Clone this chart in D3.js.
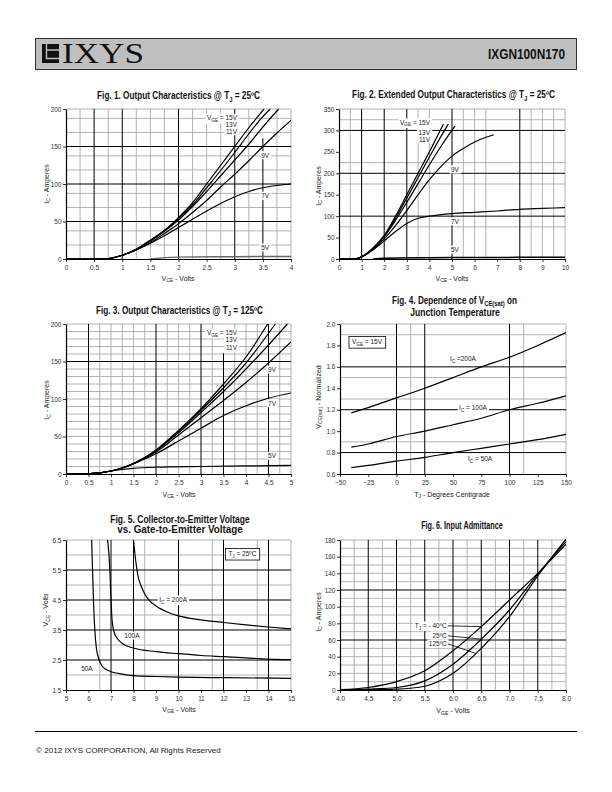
<!DOCTYPE html>
<html><head><meta charset="utf-8">
<script src="https://cdn.jsdelivr.net/npm/d3@7"></script>
<style>body{margin:0;background:#fff}svg{display:block}text{font-family:"Liberation Sans",Arial,sans-serif}</style>
</head><body>
<script>
// ================= DATA =================
// Fig 1 – Output characteristics @ 25C (VCE, IC)
const fig1_xTicks = [0,0.5,1,1.5,2,2.5,3,3.5,4];
const fig1_yTicks = [0,50,100,150,200];
const fig1_vge15 = [[0,0],[0.6,0],[0.75,0.5],[1,5],[1.25,13],[1.5,25],[1.75,38],[2,55],[2.25,75],[2.5,100],[2.75,125],[3,150],[3.25,175],[3.52,200]];
const fig1_vge13 = [[0,0],[0.6,0],[0.75,0.5],[1,5],[1.25,13],[1.5,25],[1.75,38],[2,54],[2.25,72],[2.5,95],[2.75,118],[3,142],[3.25,167],[3.5,190],[3.63,200]];
const fig1_vge11 = [[0,0],[0.6,0],[0.75,0.5],[1,5],[1.25,13],[1.5,24],[1.75,37],[2,52],[2.25,70],[2.5,90],[2.75,111],[3,132],[3.25,153],[3.5,176],[3.78,200]];
const fig1_vge9  = [[0,0],[0.6,0],[0.75,0.5],[1,5],[1.25,12],[1.5,22],[1.75,34],[2,47],[2.25,62],[2.5,78],[2.75,96],[3,113],[3.25,131],[3.5,150],[3.75,168],[4,185]];
const fig1_vge7  = [[0,0],[0.6,0],[0.75,0.5],[1,5],[1.25,12],[1.5,21],[1.75,31],[2,42],[2.25,53],[2.5,64],[2.75,74],[3,83],[3.25,90],[3.5,95],[3.75,98],[4,100]];
const fig1_vge5  = [[1.5,0],[1.7,1.5],[2,2.5],[3,3],[4,3.5]];
const fig1_xGridMajor = [0.5,1,2,3];
const fig1_xGridMinor = [0.25,0.75,1.25,1.5,1.75,2.25,2.5,2.75,3.25,3.75];
const fig1_yGridMajor = [50,100,150];
const fig1_yGridMinor = [18.75,37.5,68.75,87.5,118.75,137.5,168.75,187.5];

// Fig 2 – Extended output characteristics @ 25C
const fig2_xTicks = [0,1,2,3,4,5,6,7,8,9,10];
const fig2_yTicks = [0,50,100,150,200,250,300,350];
const fig2_vge15 = [[0,0],[0.5,0],[0.75,0.5],[1,5],[1.5,25],[2,55],[2.5,100],[3,150],[3.5,200],[4,250],[4.3,281],[4.62,315]];
const fig2_vge13 = [[0,0],[0.5,0],[0.75,0.5],[1,5],[1.5,25],[2,54],[2.5,95],[3,142],[3.5,190],[4,238],[4.5,285],[4.84,315]];
const fig2_vge11 = [[0,0],[0.5,0],[0.75,0.5],[1,5],[1.5,24],[2,52],[2.5,90],[3,132],[3.5,176],[4,220],[4.5,262],[5.13,310]];
const fig2_vge9  = [[0,0],[0.5,0],[0.75,0.5],[1,5],[1.5,22],[2,47],[2.5,78],[3,113],[3.5,150],[4,185],[4.5,215],[5,240],[5.5,258],[6,273],[6.5,284],[6.85,290]];
const fig2_vge7  = [[0,0],[0.5,0],[0.75,0.5],[1,5],[1.5,21],[2,42],[2.5,64],[3,83],[3.5,95],[4,100],[5,106],[6,109],[7,112],[8,116],[9,118],[10,120]];
const fig2_vge5  = [[1.5,0],[2,2],[4,3],[6,3.5],[10,4]];
const fig2_xGridMajor = [1,2,3,5,8];
const fig2_xGridMinor = [0.5,3.5,4,5.5,6,6.5,8.5,9,9.5];
const fig2_yGridMajor = [100,200,300];
const fig2_yGridMinor = [75,175,225,325];

// Fig 3 – Output characteristics @ 125C
const fig3_xTicks = [0,0.5,1,1.5,2,2.5,3,3.5,4,4.5,5];
const fig3_yTicks = [0,50,100,150,200];
const fig3_vge15 = [[0,0],[0.4,0],[0.5,0.5],[0.75,1.5],[1,4],[1.25,8],[1.5,14],[1.75,22],[2,32],[2.5,58],[3,87],[3.5,120],[4,156],[4.48,200]];
const fig3_vge13 = [[0,0],[0.4,0],[0.5,0.5],[0.75,1.5],[1,4],[1.25,8],[1.5,14],[1.75,21.8],[2,31.5],[2.5,57],[3,85],[3.5,115],[4,148],[4.65,200]];
const fig3_vge11 = [[0,0],[0.4,0],[0.5,0.5],[0.75,1.5],[1,4],[1.25,8],[1.5,14],[1.75,21.5],[2,31],[2.5,55],[3,82],[3.5,110],[4,140],[4.5,172],[4.92,200]];
const fig3_vge9  = [[0,0],[0.4,0],[0.5,0.5],[0.75,1.5],[1,4],[1.25,8],[1.5,13.8],[1.75,21],[2,29.5],[2.5,52],[3,75],[3.5,98],[4,122],[4.5,148],[5,176]];
const fig3_vge7  = [[0,0],[0.4,0],[0.5,0.5],[0.75,1.5],[1,4],[1.25,8],[1.5,13.5],[1.75,20],[2,27],[2.5,44],[3,61],[3.5,78],[4,91],[4.5,101],[5,108]];
const fig3_vge5  = [[0,0],[0.4,0],[0.5,0.5],[0.75,1.5],[1,4],[1.25,6],[1.5,7.5],[2,9],[3,10],[4,10.8],[5,11.5]];
const fig3_xGridMajor = [0.5,2,3,4.5];
const fig3_xGridMinor = [0.75,1,1.25,1.5,1.75,2.25,2.5,2.75,3.25,3.75,4,4.25,4.75];
const fig3_yGridMajor = [150];
const fig3_yGridMinor = [10,20,30,40,50,60,70,80,90,100,110,120,130,140,160,170,180,190];

// Fig 4 – VCE(sat) normalized vs junction temperature
const fig4_xTicks = [-50,-25,0,25,50,75,100,125,150];
const fig4_yTicks = [0.6,0.8,1.0,1.2,1.4,1.6,1.8,2.0];
const fig4_temp  = [-40,-25,0,25,50,75,100,125,150];
const fig4_ic200 = [1.17,1.22,1.31,1.40,1.50,1.60,1.69,1.80,1.92];
const fig4_ic100 = [0.85,0.88,0.95,1.00,1.06,1.12,1.20,1.26,1.33];
const fig4_ic50  = [0.66,0.68,0.72,0.755,0.80,0.84,0.88,0.92,0.97];
const fig4_xGridMajor = [0,25,100];
const fig4_xGridMinor = [12.5,112.5];
const fig4_yGridMajor = [0.8,1.2,1.6];
const fig4_yGridMinor = [0.9,1.3,1.5,1.9];

// Fig 5 – VCE vs VGE
const fig5_xTicks = [5,6,7,8,9,10,11,12,13,14,15];
const fig5_yTicks = [1.5,2.5,3.5,4.5,5.5,6.5];
const fig5_ic200 = [[8.0,6.5],[8.1,5.8],[8.2,5.3],[8.35,4.95],[8.5,4.7],[8.75,4.45],[9,4.3],[9.5,4.1],[10,3.97],[11,3.84],[12,3.75],[13,3.67],[14,3.6],[15,3.54]];
const fig5_ic100 = [[6.85,6.5],[6.95,5.5],[7.0,4.5],[7.05,3.8],[7.15,3.4],[7.3,3.2],[7.5,3.05],[8,2.9],[9,2.78],[10,2.71],[11,2.65],[12,2.61],[13,2.57],[14,2.53],[15,2.51]];
const fig5_ic50  = [[6.14,6.5],[6.18,5.5],[6.22,4.5],[6.28,3.5],[6.35,2.9],[6.45,2.55],[6.6,2.3],[6.8,2.18],[7,2.11],[7.5,2.03],[8,1.98],[9,1.95],[10,1.93],[12,1.91],[15,1.89]];
const fig5_xGridMajor = [7,8,10,12,14];
const fig5_xGridMinor = [6.5,8.5,11.5,13.5];
const fig5_yGridMajor = [2.5,3.5,4.5,5.5];
const fig5_yGridMinor = [2,3,4,5,6];

// Fig 6 – Input admittance (VGE, IC)
const fig6_xTicks = [4.0,4.5,5.0,5.5,6.0,6.5,7.0,7.5,8.0];
const fig6_yTicks = [0,20,40,60,80,100,120,140,160,180];
const fig6_tjm40 = [[4,0.5],[4.5,3],[5,10],[5.5,23],[6,47],[6.5,76],[7,108],[7.5,140],[8,175]];
const fig6_tj25  = [[4,0],[4.5,1],[5,3],[5.5,11],[6,31],[6.5,61],[7,96],[7.5,139],[8,178]];
const fig6_tj125 = [[4,0],[4.5,0.2],[5,1],[5.5,4.5],[6,20],[6.5,50],[7,88],[7.5,137],[8,181]];
const fig6_xGridMajor = [4.5,5,5.5,6,6.5,7,7.5];
const fig6_xGridMinor = [4.25,4.75,5.25,5.75,6.25,6.75,7.25,7.75];
const fig6_yGridMajor = [60,120];
const fig6_yGridMinor = [10,20,30,40,50,70,80,90,100,110,130,140,150,160,170];

// ================= DRAWING =================
const svg = d3.select("body").append("svg").attr("width",612).attr("height",792);
const MINOR = "#a0a0a0", TXT = "#222";
let clipN = 0;

function rich(sel, str, fs){
  const re = /_\{([^}]*)\}/g; let last=0, m; const parts=[];
  while((m=re.exec(str))){ if(m.index>last) parts.push({t:str.slice(last,m.index)}); parts.push({t:m[1],sub:true}); last=re.lastIndex; }
  if(last<str.length) parts.push({t:str.slice(last)});
  let shifted=false;
  parts.forEach(p=>{
    const ts = sel.append("tspan").text(p.t);
    if(p.sub){ ts.attr("font-size",fs*0.72).attr("dy",fs*0.25); shifted=true; }
    else if(shifted){ ts.attr("dy",-fs*0.25); shifted=false; }
  });
  return sel;
}
function fitWidth(t, cx, w){
  const bw = t.node().getBBox().width;
  const s = w/bw;
  t.attr("transform",`translate(${cx},0) scale(${s},1) translate(${-cx},0)`);
}
function title(str, cx, y, w){
  const t = svg.append("text").attr("x",cx).attr("y",y).attr("text-anchor","middle")
    .attr("font-size",10).attr("font-weight","bold").attr("fill","#111")
    .style("font-family",'"Liberation Sans Narrow","Liberation Sans",Arial,sans-serif');
  rich(t,str,10);
  fitWidth(t,cx,w);
}

function chart(c){
  const g = svg.append("g");
  const x = d3.scaleLinear().domain(c.xd).range([c.l,c.r]);
  const y = d3.scaleLinear().domain(c.yd).range([c.b,c.t]);
  const id = "clip"+(clipN++);
  svg.append("clipPath").attr("id",id).append("rect")
    .attr("x",c.l).attr("y",c.t-1).attr("width",c.r-c.l).attr("height",c.b-c.t+1);
  const vline=(v,col,w,a,b)=>g.append("line").attr("x1",x(v)).attr("x2",x(v))
    .attr("y1",y(a===undefined?c.yd[0]:a)).attr("y2",y(b===undefined?c.yd[1]:b)).attr("stroke",col).attr("stroke-width",w);
  const hline=(v,col,w)=>g.append("line").attr("x1",c.l).attr("x2",c.r)
    .attr("y1",y(v)).attr("y2",y(v)).attr("stroke",col).attr("stroke-width",w);
  c.xMinor.forEach(v=>vline(v,MINOR,0.8));
  c.yMinor.forEach(v=>hline(v,MINOR,0.8));
  hline(c.yd[1],MINOR,0.8); vline(c.xd[1],MINOR,0.8);
  c.xMajor.forEach(v=>vline(v,"#000",1));
  c.yMajor.forEach(v=>hline(v,"#000",1));
  (c.xPartial||[]).forEach(p=>vline(p[0],"#000",1,c.yd[0],p[1]));

  const ax = g.append("g").attr("transform",`translate(0,${c.b})`)
    .call(d3.axisBottom(x).tickValues(c.xt).tickFormat(c.xf).tickSizeInner(3).tickSizeOuter(0).tickPadding(3));
  const ay = g.append("g").attr("transform",`translate(${c.l},0)`)
    .call(d3.axisLeft(y).tickValues(c.yt).tickFormat(c.yf).tickSizeInner(3).tickSizeOuter(0).tickPadding(1.5));
  [ax,ay].forEach(a=>{
    a.attr("font-family",null).attr("font-size",null);
    a.selectAll("text").attr("font-size",6.5).attr("fill","#333");
    a.selectAll("line").attr("stroke","#000").attr("stroke-width",0.8);
    a.select(".domain").attr("stroke","#000").attr("stroke-width",1.2);
  });

  const line = d3.line().x(d=>x(d[0])).y(d=>y(d[1])).curve(d3.curveMonotoneX);
  const cg = g.append("g").attr("clip-path",`url(#${id})`);
  c.series.forEach(s=>{
    cg.append("path").datum(s.pts).attr("d",line).attr("fill","none")
      .attr("stroke",s.col||"#000").attr("stroke-width",s.w||1.2);
  });

  (c.labels||[]).forEach(L=>{
    const lg = g.append("g");
    const t = lg.append("text").attr("x",x(L.x)).attr("y",y(L.y)).attr("text-anchor",L.a||"middle")
      .attr("font-size",6.5).attr("fill",TXT);
    rich(t,L.t,6.5);
    const bb = t.node().getBBox();
    const px = L.box?3:1.5;
    lg.insert("rect",":first-child").attr("x",bb.x-px).attr("y",bb.y-(L.box?1.5:0.5)).attr("width",bb.width+2*px).attr("height",bb.height+(L.box?3:1))
      .attr("fill","#fff").attr("stroke",L.box?"#000":"none").attr("stroke-width",0.8);
  });

  (c.leaders||[]).forEach(L=>{
    const lg = g.append("g");
    const t = lg.append("text").attr("x",x(L.x)).attr("y",y(L.y)).attr("text-anchor","end")
      .attr("font-size",6.5).attr("fill",TXT);
    rich(t,L.t,6.5);
    const bb = t.node().getBBox();
    lg.insert("rect",":first-child").attr("x",bb.x-1.5).attr("y",bb.y-0.5).attr("width",bb.width+3).attr("height",bb.height+1).attr("fill","#fff");
    const xs = L.curve.map(d=>d[0]), ys = L.curve.map(d=>d[1]);
    const yEnd = d3.scaleLinear().domain(xs).range(ys)(L.at);
    lg.append("line").attr("x1",x(L.x)+1).attr("y1",y(L.y)-2.2).attr("x2",x(L.at)).attr("y2",y(yEnd))
      .attr("stroke","#000").attr("stroke-width",0.8);
  });

  const xt = g.append("text").attr("x",c.xTitle.cx).attr("y",c.xTitle.y).attr("text-anchor","middle")
    .attr("font-size",7).attr("fill",TXT);
  rich(xt,c.xTitle.t,7);
  const yt = g.append("text").attr("transform",`translate(${c.yTitle.x},${c.yTitle.cy}) rotate(-90)`).attr("text-anchor","middle")
    .attr("font-size",7).attr("fill",TXT);
  rich(yt,c.yTitle.t,7);
}

const f1 = d=>d3.format("")(d);
const f1d = d=>d.toFixed(1);

// ---------- header ----------
svg.append("rect").attr("x",35.5).attr("y",38.5).attr("width",541).attr("height",31).attr("fill","#bfbfbf").attr("stroke","#333").attr("stroke-width",1);
svg.append("rect").attr("x",42).attr("y",44).attr("width",17).attr("height",19).attr("fill","#111");
svg.append("path").attr("d","M46.5,44 V58.5 H59 M46.5,50 H59").attr("stroke","#bfbfbf").attr("stroke-width",1.4).attr("fill","none");
svg.append("text").attr("x",62).attr("y",63).attr("font-size",29).attr("fill","#111")
  .style("font-family",'"Liberation Serif","Times New Roman",serif').attr("textLength",82).attr("lengthAdjust","spacingAndGlyphs").text("IXYS");
svg.append("text").attr("x",565).attr("y",59).attr("text-anchor","end").attr("font-size",14).attr("font-weight","bold").attr("fill","#111")
  .style("font-family",'"Liberation Sans Narrow","Liberation Sans",Arial,sans-serif').attr("textLength",77).attr("lengthAdjust","spacingAndGlyphs").text("IXGN100N170");

// ---------- titles ----------
title("Fig. 1. Output Characteristics @ T_{J} = 25ºC", 178.5, 99.5, 163);
title("Fig. 2. Extended Output Characteristics @ T_{J} = 25ºC", 453.5, 98.5, 203);
title("Fig. 3. Output Characteristics @ T_{J} = 125ºC", 179.5, 314, 167);
title("Fig. 4. Dependence of V_{CE(sat)} on", 454.5, 304, 125);
title("Junction Temperature", 455, 316.5, 90);
title("Fig. 5. Collector-to-Emitter Voltage", 180, 523, 140);
title("vs. Gate-to-Emitter Voltage", 180, 533.5, 126);
title("Fig. 6. Input Admittance", 462, 529, 82);

// ---------- charts ----------
chart({l:66,r:291,t:109,b:259,xd:[0,4],yd:[0,200],xt:fig1_xTicks,yt:fig1_yTicks,xf:f1,yf:f1,
  xMajor:fig1_xGridMajor,xMinor:fig1_xGridMinor,yMajor:fig1_yGridMajor,yMinor:fig1_yGridMinor,xPartial:[[3.5,161]],
  series:[{pts:fig1_vge15},{pts:fig1_vge13},{pts:fig1_vge11},{pts:fig1_vge9},{pts:fig1_vge7},{pts:fig1_vge5,col:"#666",w:1.5}],
  labels:[{t:"V_{GE} = 15V",x:3.04,y:185,a:"end"},{t:"13V",x:3.04,y:176,a:"end"},{t:"11V",x:3.04,y:167,a:"end"},
          {t:"9V",x:3.54,y:135},{t:"7V",x:3.54,y:81},{t:"5V",x:3.54,y:12}],
  xTitle:{t:"V_{CE} - Volts",cx:178,y:280.5},yTitle:{t:"I_{C} - Amperes",x:48.5,cy:184}});

chart({l:339,r:565,t:109,b:259,xd:[0,10],yd:[0,350],xt:fig2_xTicks,yt:fig2_yTicks,xf:f1,yf:f1,
  xMajor:fig2_xGridMajor,xMinor:fig2_xGridMinor,yMajor:fig2_yGridMajor,yMinor:fig2_yGridMinor,
  series:[{pts:fig2_vge15},{pts:fig2_vge13},{pts:fig2_vge11},{pts:fig2_vge9},{pts:fig2_vge7},{pts:fig2_vge5,w:1.5}],
  labels:[{t:"V_{GE} = 15V",x:4.03,y:313,a:"end"},{t:"13V",x:4.03,y:290,a:"end"},{t:"11V",x:4.03,y:274,a:"end"},
          {t:"9V",x:5.13,y:203},{t:"7V",x:5.13,y:82},{t:"5V",x:5.13,y:16}],
  xTitle:{t:"V_{CE} - Volts",cx:452,y:280.5},yTitle:{t:"I_{C} - Amperes",x:320.5,cy:186}});

chart({l:66,r:291,t:324,b:474,xd:[0,5],yd:[0,200],xt:fig3_xTicks,yt:fig3_yTicks,xf:f1,yf:f1,
  xMajor:fig3_xGridMajor,xMinor:fig3_xGridMinor,yMajor:fig3_yGridMajor,yMinor:fig3_yGridMinor,xPartial:[[3.5,161]],
  series:[{pts:fig3_vge15},{pts:fig3_vge13},{pts:fig3_vge11},{pts:fig3_vge9},{pts:fig3_vge7},{pts:fig3_vge5}],
  labels:[{t:"V_{GE} = 15V",x:3.8,y:185,a:"end"},{t:"13V",x:3.8,y:176,a:"end"},{t:"11V",x:3.8,y:165,a:"end"},
          {t:"9V",x:4.58,y:136},{t:"7V",x:4.58,y:91},{t:"5V",x:4.58,y:21}],
  xTitle:{t:"V_{CE} - Volts",cx:179,y:496.5},yTitle:{t:"I_{C} - Amperes",x:49.3,cy:400}});

chart({l:340,r:566,t:324,b:474,xd:[-50,150],yd:[0.6,2.0],xt:fig4_xTicks,yt:fig4_yTicks,xf:f1,yf:f1d,
  xMajor:fig4_xGridMajor,xMinor:fig4_xGridMinor,yMajor:fig4_yGridMajor,yMinor:fig4_yGridMinor,
  series:[{pts:fig4_temp.map((t,i)=>[t,fig4_ic200[i]])},{pts:fig4_temp.map((t,i)=>[t,fig4_ic100[i]])},{pts:fig4_temp.map((t,i)=>[t,fig4_ic50[i]])}],
  labels:[{t:"I_{C} =200A",x:58.8,y:1.655},{t:"I_{C} = 100A",x:67.7,y:1.197},{t:"I_{C} = 50A",x:74,y:0.72},
          {t:"V_{GE} = 15V",x:-39.4,y:1.813,a:"start",box:true}],
  xTitle:{t:"T_{J} - Degrees Centigrade",cx:452,y:496.5},yTitle:{t:"V_{CE(sat)} - Normalized",x:320.5,cy:397}});

chart({l:66,r:291,t:540,b:690,xd:[5,15],yd:[1.5,6.5],xt:fig5_xTicks,yt:fig5_yTicks,xf:f1,yf:f1d,
  xMajor:fig5_xGridMajor,xMinor:fig5_xGridMinor,yMajor:fig5_yGridMajor,yMinor:fig5_yGridMinor,
  series:[{pts:fig5_ic200},{pts:fig5_ic100},{pts:fig5_ic50}],
  labels:[{t:"I_{C} = 200A",x:9.76,y:4.43},{t:"100A",x:7.93,y:3.23},{t:"50A",x:5.93,y:2.13},
          {t:"T_{J} = 25ºC",x:12.84,y:5.97,box:true}],
  xTitle:{t:"V_{GE} - Volts",cx:179,y:711.5},yTitle:{t:"V_{CE} - Volts",x:48.3,cy:610}});

chart({l:340,r:566,t:540,b:690,xd:[4,8],yd:[0,180],xt:fig6_xTicks,yt:fig6_yTicks,xf:f1d,yf:f1,
  xMajor:fig6_xGridMajor,xMinor:fig6_xGridMinor,yMajor:fig6_yGridMajor,yMinor:fig6_yGridMinor,
  series:[{pts:fig6_tjm40},{pts:fig6_tj25},{pts:fig6_tj125}],
  leaders:[{t:"T_{J} = - 40ºC",x:5.89,y:74.4,curve:fig6_tjm40,at:6.5},
           {t:"25ºC",x:5.89,y:62.4,curve:fig6_tj25,at:6.5},
           {t:"125ºC",x:5.89,y:52.8,curve:fig6_tj125,at:6.4}],
  xTitle:{t:"V_{GE} - Volts",cx:453,y:713},yTitle:{t:"I_{C} - Amperes",x:320.5,cy:612}});

// ---------- footer ----------
svg.append("line").attr("x1",35).attr("x2",577).attr("y1",731.5).attr("y2",731.5).attr("stroke","#000").attr("stroke-width",1);
const ft = svg.append("text").attr("x",36).attr("y",753).attr("font-size",8).attr("fill",TXT).text("© 2012 IXYS CORPORATION, All Rights Reserved");
{ const bw = ft.node().getBBox().width; ft.attr("transform",`translate(36,0) scale(${185/bw},1) translate(-36,0)`); }
</script>
</body></html>
